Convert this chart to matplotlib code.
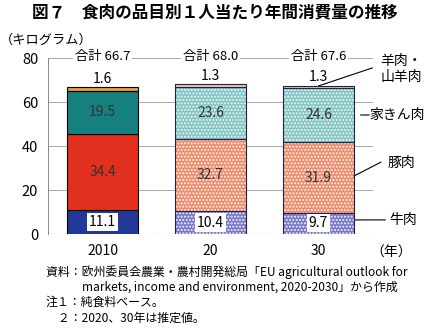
import matplotlib
matplotlib.use('Agg')
import matplotlib.pyplot as plt
import numpy as np

plt.rcParams['font.family'] = ['Noto Sans CJK JP', 'DejaVu Sans']
plt.rcParams['hatch.linewidth'] = 1.0

years = ['2010', '20', '30']
totals = ['66.7', '68.0', '67.6']
beef = [11.1, 10.4, 9.7]
pork = [34.4, 32.7, 31.9]
poultry = [19.5, 23.6, 24.6]
sheep = [1.6, 1.3, 1.3]
series_names = ['牛肉', '豚肉', '家きん肉', '羊肉・\n山羊肉']

solid_colors = ['#23399a', '#e2301f', '#16807e', '#eb9a34']
dot_colors = ['#7674cc', '#f08a68', '#80c6c4', '#f5bb8a']

fig = plt.figure(figsize=(4.26, 3.33), dpi=100)
ax = fig.add_axes([48 / 426, 99 / 333, 325 / 426, 176 / 333])

x = np.arange(len(years))
w = 0.65
stack = [beef, pork, poultry, sheep]
bottom = np.zeros(len(years))
for k, vals in enumerate(stack):
    vals = np.array(vals)
    for i in range(len(years)):
        if i == 0:
            ax.bar(x[i], vals[i], w, bottom=bottom[i], color=solid_colors[k],
                   edgecolor='black', linewidth=0.8, zorder=3)
        else:
            ax.bar(x[i], vals[i], w, bottom=bottom[i], color=dot_colors[k],
                   edgecolor='#f4f4f4', hatch='.....', linewidth=0, zorder=3)
            ax.bar(x[i], vals[i], w, bottom=bottom[i], fill=False,
                   edgecolor='#222244', linewidth=0.8, zorder=4)
        # value labels
        if k == 0:
            ax.text(x[i], bottom[i] + vals[i] / 2, f'{vals[i]:.1f}', ha='center', va='center',
                    fontsize=10, zorder=5,
                    bbox=dict(facecolor='white', edgecolor='none', pad=1.5))
        elif k < 3:
            ax.text(x[i], bottom[i] + vals[i] / 2, f'{vals[i]:.1f}', ha='center', va='center',
                    fontsize=10, color='#333333', zorder=5)
        else:
            ax.text(x[i], bottom[i] + vals[i] + 4, f'{vals[i]:.1f}', ha='center', va='center',
                    fontsize=10, zorder=5)
    bottom = bottom + vals

for i in range(len(years)):
    ax.text(x[i], 80.8, f'合計 {totals[i]}', ha='center', va='center', fontsize=9.5,
            zorder=5, bbox=dict(facecolor='white', edgecolor='none', pad=1))

ax.set_xlim(-0.505, 2.505)
ax.set_ylim(0, 80)
ax.set_yticks([0, 20, 40, 60, 80])
ax.set_yticklabels(['0', '20', '40', '60', '80'], fontsize=10.5)
ax.set_xticks(x)
ax.set_xticklabels(years, fontsize=10)
ax.tick_params(length=0, pad=7)
ax.grid(axis='y', color='#a8a8a8', linewidth=0.7, zorder=0)
for s in ax.spines.values():
    s.set_visible(False)
ax.spines['left'].set_visible(True)
ax.spines['left'].set_color('#888888')
ax.spines['left'].set_linewidth(0.7)
ax.axhline(0, color='#777777', linewidth=0.8, zorder=2)

# series labels on the right with leader lines
label_pos = [(2.78, 6.4), (2.77, 32.3), (2.73, 54.1), (2.77, 75.0)]
leaders = [((2.33, 6.4), (2.62, 6.4)),
           ((2.33, 26.4), (2.58, 32.7)),
           ((2.39, 54.1), (2.47, 54.1)),
           ((2.0, 67.3), (2.50, 75.5))]
for name, (tx, ty), (p0, p1) in zip(series_names, label_pos, leaders):
    ax.text(tx, ty, name, fontsize=10, ha='center', va='center', linespacing=1.25,
            clip_on=False)
    ax.annotate('', xy=p0, xytext=p1, annotation_clip=False,
                arrowprops=dict(arrowstyle='-', color='black', lw=0.8,
                                shrinkA=0, shrinkB=0))

fig.text(370 / 426, 1 - 253 / 333, '（年）', fontsize=10, va='center', ha='left')
fig.text(215 / 426, 1 - 12 / 333, '図７　食肉の品目別１人当たり年間消費量の推移',
         fontsize=12, fontweight='bold', ha='center', va='center')
fig.text(0 / 426, 1 - 40 / 333, '（キログラム）', fontsize=9.5, ha='left', va='center')

notes = [
    (46, 272, '資料：欧州委員会農業・農村開発総局「EU agricultural outlook for'),
    (82, 287, 'markets, income and environment, 2020-2030」から作成'),
    (46, 302, '注１：純食料ベース。'),
    (46, 318, '　２：2020、30年は推定値。'),
]
for px, py, t in notes:
    fig.text(px / 426, 1 - py / 333, t, fontsize=8.6, ha='left', va='center')

fig.savefig('out.png', dpi=100)
